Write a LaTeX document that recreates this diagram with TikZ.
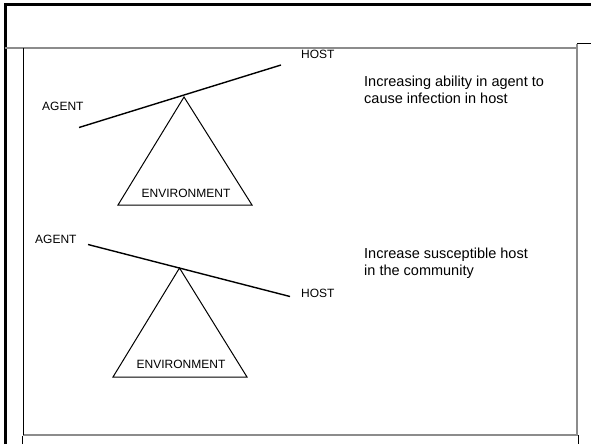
\documentclass[tikz,border=0pt]{standalone}
\usepackage{fontspec}
\setmainfont{Liberation Sans}
\begin{document}
\begin{tikzpicture}[x=1pt,y=-1pt,
  lbl/.style={anchor=base west,inner sep=0pt,font=\fontsize{12}{15}\selectfont},
  note/.style={anchor=base west,inner sep=0pt,align=left,font=\fontsize{14.5}{16.7}\selectfont},
  beam/.style={line width=1.4pt,black},
  fulcrum/.style={line width=1pt,black,line join=miter},
  frameshade/.style={line width=1.3pt,gray!90},
  framedark/.style={line width=3pt,black},
  framethin/.style={line width=1pt,black}]
\useasboundingbox (0,0) rectangle (591,444);
\fill[white] (0,0) rectangle (591,444);

% slide frame
\draw[framedark] (5,444) -- (5,5) -- (591,5);
\draw[frameshade] (5,48) -- (577,48);
\draw[frameshade] (577,44) -- (577,435) -- (23,435);
\draw[framethin] (577,44) -- (591,44);
\draw[framethin] (23,48) -- (23,435);
\draw[framethin] (22,444) -- (22,435.6);
\draw[framethin] (578.5,435) -- (578.5,444);

% upper balance: agent side low, host side high
\coordinate (b1l) at (79,127.5);
\coordinate (b1r) at (281,65);
\coordinate (t1a) at (184,97);
\coordinate (t1l) at (118,205);
\coordinate (t1r) at (252,205);
\draw[beam] (b1l) -- (b1r);
\draw[fulcrum] (t1a) -- (t1r) -- (t1l) -- cycle;
\node[lbl] (agent1) at (42,110) {AGENT};
\node[lbl] (host1) at (301,59) {HOST};
\node[lbl,anchor=base] (env1) at (186,197) {ENVIRONMENT};
\node[note] (note1) at (364,103) {Increasing ability in agent to\\cause infection in host};

% lower balance: agent side high, host side low
\coordinate (b2l) at (88,244.5);
\coordinate (b2r) at (290,296.5);
\coordinate (t2a) at (179.5,268);
\coordinate (t2l) at (113,377);
\coordinate (t2r) at (247,377);
\draw[beam] (b2l) -- (b2r);
\draw[fulcrum] (t2a) -- (t2r) -- (t2l) -- cycle;
\node[lbl] (agent2) at (35,243) {AGENT};
\node[lbl] (host2) at (301,297) {HOST};
\node[lbl,anchor=base] (env2) at (181,368) {ENVIRONMENT};
\node[note] (note2) at (364,275) {Increase susceptible host\\in the community};
\end{tikzpicture}
\end{document}
